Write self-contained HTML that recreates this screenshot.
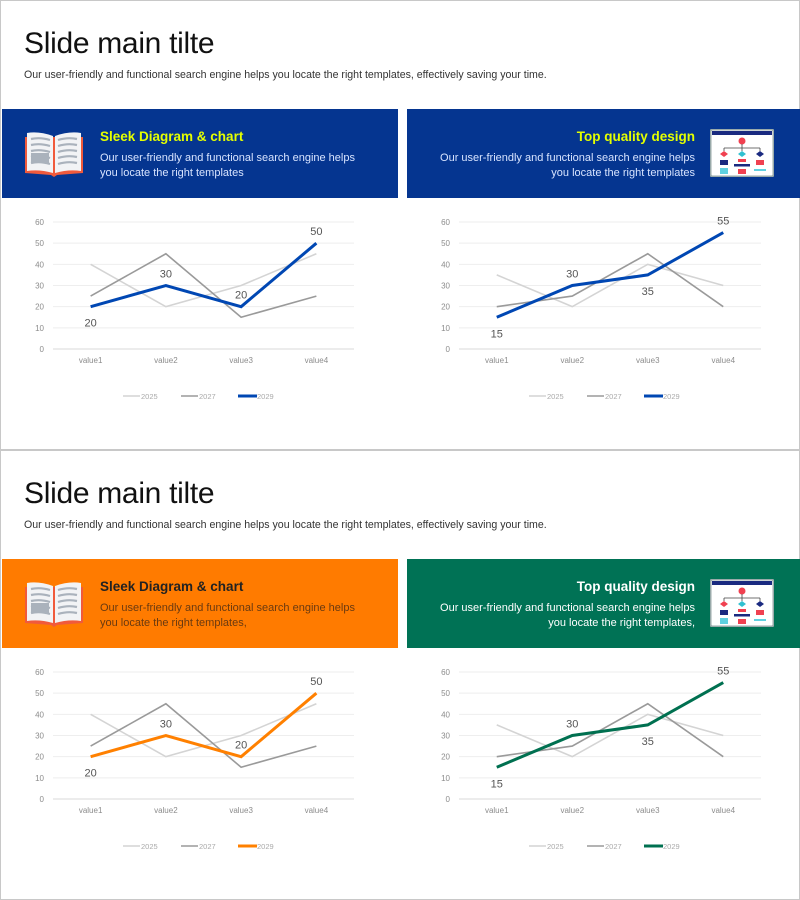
<!DOCTYPE html>
<html><head><meta charset="utf-8">
<style>
*{margin:0;padding:0;box-sizing:border-box}
body{width:800px;height:900px;background:#fff;font-family:"Liberation Sans",sans-serif;position:relative;overflow:hidden}
.slide{position:absolute;left:0;width:800px;height:450px;border:1px solid #c8c8c8;background:#fff}
.title{position:absolute;left:23px;top:26px;font-size:30px;color:#111;letter-spacing:-0.3px}
.sub{position:absolute;left:23px;top:68px;font-size:10.6px;color:#333}
.banner{position:absolute;top:108px;height:89px}
.bt{position:absolute;top:20px;font-size:13.5px;font-weight:bold}
.bd{position:absolute;top:42px;font-size:11px;line-height:15px}
svg.ch{position:absolute;top:200px}
</style></head><body>
<div id="root"></div>
<script>
const cats=["value1","value2","value3","value4"];
const ticks=[0,10,20,30,40,50,60];
const years=["2025","2027","2029"];
const leftA=[40,20,30,45];
const leftB=[25,45,15,25];
const leftC=[20,30,20,50];
const rightA=[35,20,40,30];
const rightB=[20,25,45,20];
const rightC=[15,30,35,55];
const leftLabelBelow=[true,false,false,false];
const rightLabelBelow=[true,false,true,false];

const themes=[
 {bg:"#053590",title:"#e4ff00",desc:"#d8e4ff",line:"#0047b3",lt:"#e4ff00",ld:"#d8e4ff"},
 {bg:"#ff7b00",title:"#222",desc:"#6a3a10",line:"#ff8000",lt:"#fff",ld:"#fff",rbg:"#007255"}
];
const root=document.getElementById('root');
const NS="http://www.w3.org/2000/svg";
function mk(tag,attrs,parent){const e=document.createElementNS(NS,tag);for(const k in attrs)e.setAttribute(k,attrs[k]);parent.appendChild(e);return e;}

function bookIcon(){return `<svg width="62" height="50" viewBox="0 0 62 50"><path d="M2 8 L2 44 L28 46 L31 48 L34 46 L60 44 L60 8 Z" fill="#f05a3c"/><path d="M4 4 Q16 2 30 7 L30 44 Q16 40 4 42 Z" fill="#f2f3f5"/><path d="M58 4 Q46 2 32 7 L32 44 Q46 40 58 42 Z" fill="#f2f3f5"/>${[10,16,22,28,34].map(y=>`<path d="M8 ${y} Q17 ${y-2} 27 ${y+1}" stroke="#aab2bc" stroke-width="2.2" fill="none"/><path d="M35 ${y+1} Q45 ${y-2} 54 ${y}" stroke="#aab2bc" stroke-width="2.2" fill="none"/>`).join('')}<rect x="8" y="24" width="18" height="10" fill="#aab2bc"/></svg>`;}
function flowIcon(){return `<svg width="64" height="48" viewBox="0 0 64 48"><rect x="0.5" y="0.5" width="63" height="47" rx="2" fill="#fff" stroke="#9aa" stroke-width="2"/><rect x="2" y="2" width="60" height="4" fill="#1a2a80"/><circle cx="32" cy="12" r="3.5" fill="#f04050"/><path d="M14 19 H50 M32 15 V19 M14 19 V22 M32 19 V22 M50 19 V22" stroke="#444" stroke-width="0.8"/><path d="M14 22 l4 3 -4 3 -4 -3z" fill="#f04050"/><path d="M32 22 l4 3 -4 3 -4 -3z" fill="#30c0d0"/><path d="M50 22 l4 3 -4 3 -4 -3z" fill="#1a2a80"/><rect x="10" y="31" width="8" height="5" fill="#1a2a80"/><rect x="28" y="30" width="8" height="3" fill="#f04050"/><rect x="24" y="35" width="16" height="2.5" fill="#1a2a80"/><rect x="46" y="31" width="8" height="5" fill="#f04050"/><rect x="10" y="39" width="8" height="6" fill="#5fd0e0"/><rect x="28" y="40" width="8" height="5" fill="#f04050"/><rect x="44" y="40" width="12" height="2" fill="#5fd0e0"/></svg>`;}

function chart(svg,x0,x1,A,B,C,below,col,tag){
 const yTop=21,yBot=148;
 const yS=v=>yBot-(v/60)*(yBot-yTop);
 const step=(x1-x0)/4;
 const xS=i=>x0+step*(i+0.5);
 ticks.forEach(t=>{
  const l=mk('line',{x1:x0,x2:x1,y1:yS(t),y2:yS(t),stroke:t===0?'#d9d9d9':'#eeeeee','stroke-width':1},svg);
  
  const tx=mk('text',{x:x0-9,y:yS(t)+3,'font-size':8,fill:'#8c8c8c','text-anchor':'end'},svg);tx.textContent=t;
  
 });
 cats.forEach((c,i)=>{const tx=mk('text',{x:xS(i),y:yBot+14,'font-size':8,fill:'#8c8c8c','text-anchor':'middle'},svg);tx.textContent=c;
  });
 const series=[[A,'#d4d4d4',1.6],[B,'#9a9a9a',1.6],[C,col,3]];
 series.forEach((s,k)=>{
  const p=mk('polyline',{points:s[0].map((v,i)=>xS(i)+','+yS(v)).join(' '),fill:'none',stroke:s[1],'stroke-width':s[2],'stroke-linejoin':'miter'},svg);
  
 });
 C.forEach((v,i)=>{const tx=mk('text',{x:xS(i),y:below[i]?yS(v)+20:yS(v)-8,'font-size':11,fill:'#555','text-anchor':'middle'},svg);tx.textContent=v;
  });
 const lx=[x0+70,x0+128,x0+185];
 series.forEach((s,k)=>{
  const g=mk('g',{},svg);
  mk('line',{x1:lx[k],x2:lx[k]+(k==2?19:17),y1:195,y2:195,stroke:s[1],'stroke-width':s[2]},g);
  const t=mk('text',{x:lx[k]+(k==2?19:18),y:198,'font-size':7.5,fill:'#aaa'},g);t.textContent=years[k];
 });
}

[0,1].forEach(si=>{
 const th=themes[si];
 const s=document.createElement('div');s.className='slide';s.style.top=(si*450)+'px';
 
 const rbg=si==0?th.bg:th.rbg;
 s.innerHTML=`<div class="title">Slide main tilte</div>
 <div class="sub">Our user-friendly and functional search engine helps you locate the right templates, effectively saving your time.</div>
 <div class="banner" style="left:1px;width:396px;background:${th.bg}">
  <div style="position:absolute;left:21px;top:20px">${bookIcon()}</div>
  <div class="bt" style="left:98px;color:${th.title}">Sleek Diagram &amp; chart</div>
  <div class="bd" style="left:98px;color:${th.desc}">Our user-friendly and functional search engine helps<br>you locate the right templates${si?',':''}</div>
 </div>
 <div class="banner" style="left:406px;width:393px;background:${rbg}">
  <div class="bt" style="right:105px;color:${th.lt};text-align:right">Top quality design</div>
  <div class="bd" style="right:105px;color:${th.ld};text-align:right">Our user-friendly and functional search engine helps<br>you locate the right templates${si?',':''}</div>
  <div style="position:absolute;left:303px;top:20px">${flowIcon()}</div>
 </div>`;
 root.appendChild(s);
 const lsvg=document.createElementNS(NS,'svg');lsvg.setAttribute('class','ch');lsvg.setAttribute('width','400');lsvg.setAttribute('height','240');lsvg.style.left='0px';
 
 s.appendChild(lsvg);
 chart(lsvg,52,353,leftA,leftB,leftC,leftLabelBelow,th.line,'left');
 const rsvg=document.createElementNS(NS,'svg');rsvg.setAttribute('class','ch');rsvg.setAttribute('width','400');rsvg.setAttribute('height','240');rsvg.style.left='400px';
 
 s.appendChild(rsvg);
 chart(rsvg,58,360,rightA,rightB,rightC,rightLabelBelow,si==0?th.line:'#007050','right');
});
</script>
</body></html>
